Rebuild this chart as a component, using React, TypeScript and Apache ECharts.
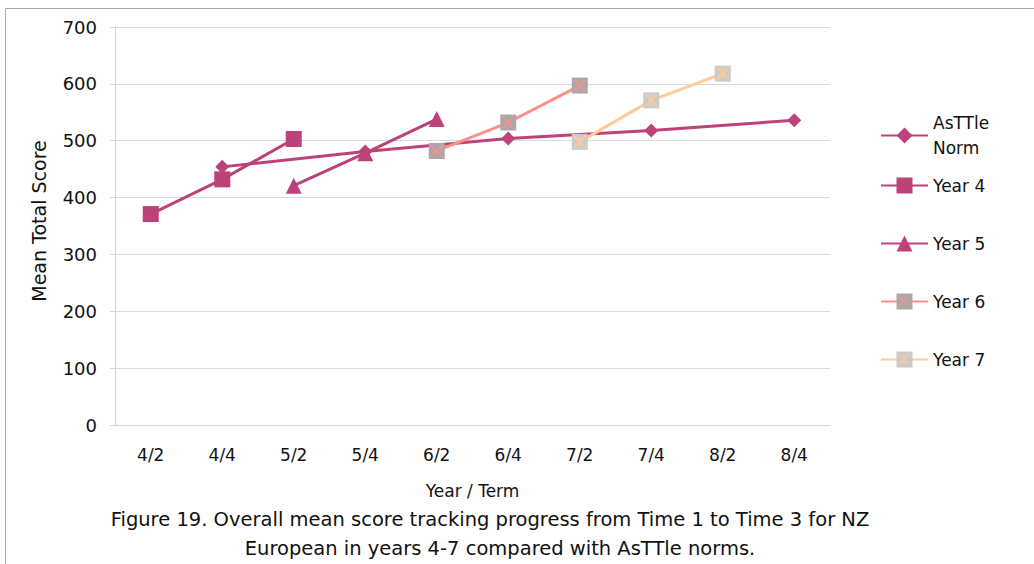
import React, { useEffect, useRef } from "react";
import * as echarts from "echarts";

// Year / term categories along the x axis
const terms = ["4/2", "4/4", "5/2", "5/4", "6/2", "6/4", "7/2", "7/4", "8/2", "8/4"];

// Mean total scores per cohort (null where a cohort was not tested)
const normScores = [null, 454, null, 481, null, 504, null, 518, null, 536];
const year4Scores = [371, 432, 503, null, null, null, null, null, null, null];
const year5Scores = [null, null, 421, 478, 538, null, null, null, null, null];
const year6Scores = [null, null, null, null, 482, 532, 597, null, null, null];
const year7Scores = [null, null, null, null, null, null, 498, 571, 618, null];

const yTicks = { min: 0, max: 700, step: 100 };

const captionLines = [
  "Figure 19. Overall mean score tracking progress from Time 1 to Time 3 for NZ",
  "European in years 4-7 compared with AsTTle norms.",
];

const MAGENTA = "#BD4279";
const SALMON = "#FF8F8A";
const PEACH = "#FFCB99";
const FONT = "'DejaVu Sans', 'Noto Sans', sans-serif";

// thin cross and asterisk glyphs drawn over the grey square markers
const CROSS =
  "path://M0,0L1.2,0L10,8.8L10,10L8.8,10L0,1.2Z M8.8,0L10,0L10,1.2L1.2,10L0,10L0,8.8Z";
const STAR =
  "path://M0,0L1.2,0L10,8.8L10,10L8.8,10L0,1.2Z M8.8,0L10,0L10,1.2L1.2,10L0,10L0,8.8Z M4.4,0L5.6,0L5.6,10L4.4,10Z";

// cross / asterisk strokes for the legend swatches
const legendGlyph = (cx: number, cy: number, color: string, withBar: boolean) => {
  const r = 5;
  const seg = (x1: number, y1: number, x2: number, y2: number) => ({
    type: "line",
    silent: true,
    z: 100,
    shape: { x1, y1, x2, y2 },
    style: { stroke: color, lineWidth: 1.3 },
  });
  const parts = [seg(cx - r, cy - r, cx + r, cy + r), seg(cx + r, cy - r, cx - r, cy + r)];
  if (withBar) parts.push(seg(cx, cy - r, cx, cy + r));
  return parts;
};

export default function App() {
  const ref = useRef<HTMLDivElement>(null);

  useEffect(() => {
    if (!ref.current) return;
    const chart = echarts.init(ref.current, null, { renderer: "svg" });

    const lineSeries = (
      name: string,
      data: (number | null)[],
      color: string,
      symbol: string,
      symbolSize: number,
      markerColor: string
    ) => ({
      name,
      type: "line",
      data,
      connectNulls: true,
      symbol,
      symbolSize,
      showAllSymbol: true,
      lineStyle: { color, width: 3 },
      itemStyle: { color: markerColor, borderWidth: 0 },
      emphasis: { disabled: true },
      z: 2,
    });

    const glyphSeries = (data: (number | null)[], color: string, symbol: string) => ({
      type: "scatter",
      data,
      symbol,
      symbolSize: 13,
      itemStyle: { color },
      silent: true,
      z: 3,
    });

    const legendText = { fontFamily: FONT, fontSize: 17, color: "#111", lineHeight: 25 };

    chart.setOption({
      animation: false,
      backgroundColor: "#fff",
      grid: { left: 115, right: 204, top: 27, bottom: 139, containLabel: false },
      xAxis: {
        type: "category",
        data: terms,
        boundaryGap: true,
        name: "Year / Term",
        nameLocation: "middle",
        nameGap: 57,
        nameTextStyle: { fontFamily: FONT, fontSize: 17, color: "#111" },
        axisLine: { show: true, lineStyle: { color: "#D4D4D4", width: 1 } },
        axisTick: { show: false },
        axisLabel: { margin: 21, fontFamily: FONT, fontSize: 17, color: "#111" },
        splitLine: { show: false },
      },
      yAxis: {
        type: "value",
        min: yTicks.min,
        max: yTicks.max,
        interval: yTicks.step,
        name: "Mean Total Score",
        nameLocation: "middle",
        nameRotate: 90,
        nameGap: 67,
        nameTextStyle: { fontFamily: FONT, fontSize: 19, color: "#111", padding: [0, 0, 0, 10] },
        axisLine: { show: true, lineStyle: { color: "#D4D4D4", width: 1 } },
        axisTick: { show: true, inside: false, length: 5, lineStyle: { color: "#D4D4D4" } },
        axisLabel: { margin: 18, fontFamily: FONT, fontSize: 18, color: "#111" },
        splitLine: { show: true, lineStyle: { color: "#DADADA", width: 1 } },
      },
      legend: [
        {
          orient: "vertical",
          left: 875,
          top: 93,
          itemWidth: 47,
          itemHeight: 20,
          data: ["AsTTle Norm"],
          formatter: () => "AsTTle\nNorm",
          textStyle: { ...legendText, padding: [25, 0, 0, 0] },
          selectedMode: false,
        },
        {
          orient: "vertical",
          left: 875,
          top: 168,
          itemWidth: 47,
          itemHeight: 20,
          itemGap: 33,
          data: ["Year 4", "Year 5", "Year 6", "Year 7"],
          textStyle: legendText,
          selectedMode: false,
        },
      ],
      series: [
        lineSeries("AsTTle Norm", normScores, MAGENTA, "diamond", 14, MAGENTA),
        lineSeries("Year 4", year4Scores, MAGENTA, "rect", 16, MAGENTA),
        lineSeries("Year 5", year5Scores, MAGENTA, "triangle", 16, MAGENTA),
        lineSeries("Year 6", year6Scores, SALMON, "rect", 16, "#A8A8A8"),
        lineSeries("Year 7", year7Scores, PEACH, "rect", 16, "#CACACA"),
        glyphSeries(year6Scores, SALMON, CROSS),
        glyphSeries(year7Scores, PEACH, STAR),
      ],
      graphic: [
        {
          type: "rect",
          silent: true,
          shape: { x: 5.5, y: 8.5, width: 1100, height: 700 },
          style: { fill: "none", stroke: "#ABABAB", lineWidth: 1 },
          z: -10,
        },
        ...legendGlyph(904, 301, SALMON, false),
        ...legendGlyph(904, 359, PEACH, true),
        ...captionLines.map((line, i) => ({
          type: "text",
          silent: true,
          x: i === 0 ? 490 : 500,
          y: 519 + i * 29,
          style: {
            text: line,
            fontFamily: FONT,
            fontSize: 19.5,
            fill: "#111",
            align: "center",
            verticalAlign: "middle",
          },
        })),
      ],
    });

    return () => chart.dispose();
  }, []);

  return (
    <div
      ref={ref}
      style={{ position: "absolute", left: 0, top: 0, width: 1034, height: 564 }}
    />
  );
}
